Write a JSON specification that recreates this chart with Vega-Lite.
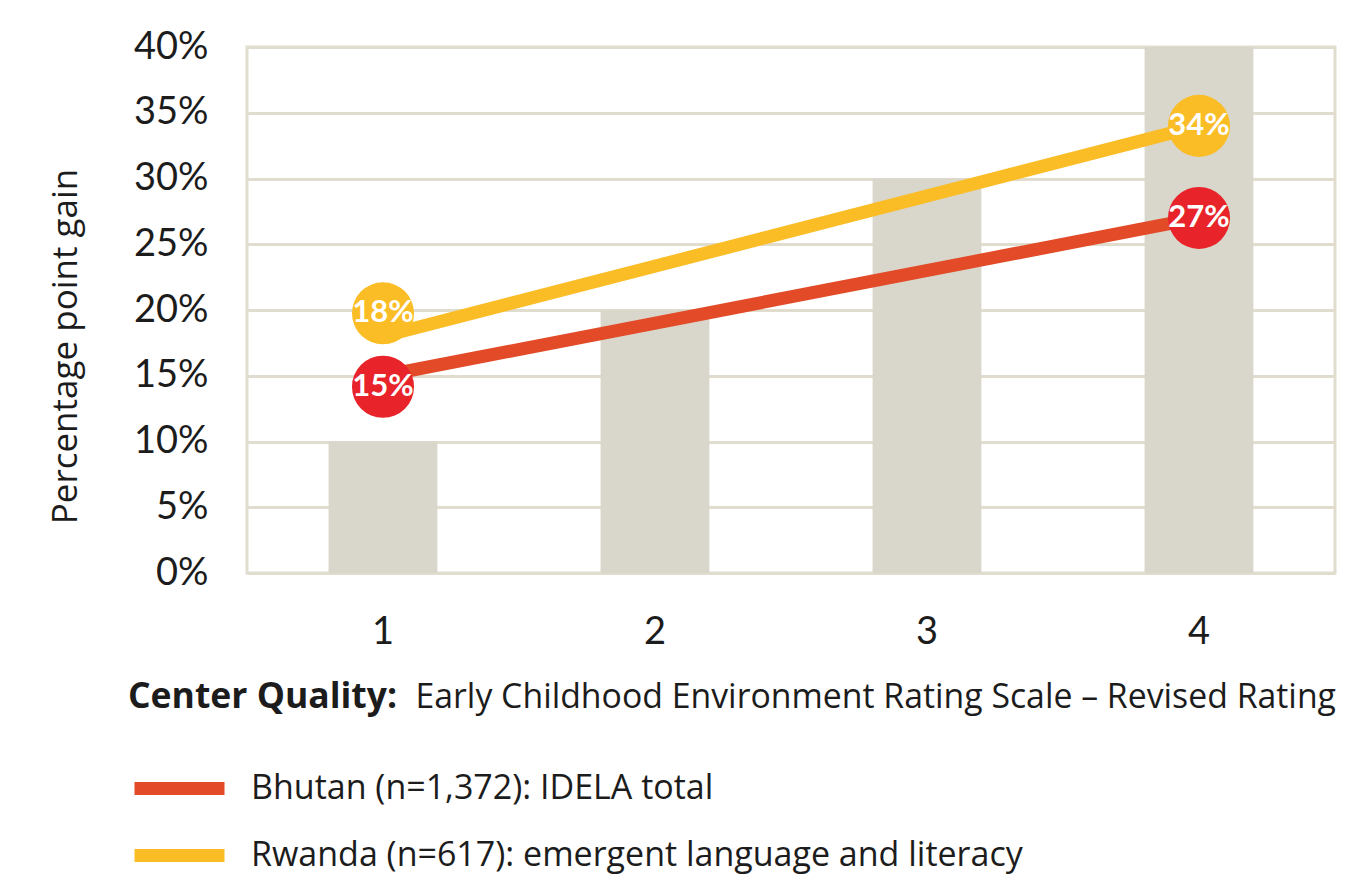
{
  "$schema": "https://vega.github.io/schema/vega-lite/v6.json",
  "width": 1088,
  "height": 526,
  "autosize": {"type": "none"},
  "padding": {"left": 247, "top": 47, "right": 15, "bottom": 315},
  "background": "white",
  "config": {
    "font": "Lato",
    "view": {"stroke": "#e0ddcf", "strokeWidth": 3}
  },
  "datasets": {
    "bars": [
      {"rating": "1", "gain": 10},
      {"rating": "2", "gain": 20},
      {"rating": "3", "gain": 30},
      {"rating": "4", "gain": 40}
    ],
    "series": [
      {"rating": "1", "country": "Bhutan (n=1,372): IDELA total", "gain": 15, "label": "15%"},
      {"rating": "4", "country": "Bhutan (n=1,372): IDELA total", "gain": 27, "label": "27%"},
      {"rating": "1", "country": "Rwanda (n=617): emergent language and literacy", "gain": 18, "label": "18%"},
      {"rating": "4", "country": "Rwanda (n=617): emergent language and literacy", "gain": 34, "label": "34%"}
    ]
  },
  "layer": [
    {
      "data": {"name": "bars"},
      "mark": {"type": "bar", "color": "#d9d6cb"},
      "encoding": {
        "x": {
          "field": "rating", "type": "ordinal",
          "scale": {"paddingInner": 0.6, "paddingOuter": 0.3},
          "axis": {
            "title": "Early Childhood Environment Rating Scale – Revised Rating",
            "titleX": 168, "titleY": 134, "titleAlign": "left", "titleAnchor": null,
            "titleBaseline": "alphabetic", "titleFontSize": 33.8, "titleFontWeight": "normal",
            "titleFont": "Open Sans", "titleColor": "#1c1c1c", "titleLimit": 1200,
            "labelFontSize": 38, "labelPadding": 40, "labelAngle": 0, "labelColor": "#1c1c1c",
            "ticks": false, "domain": false
          }
        },
        "y": {
          "field": "gain", "type": "quantitative",
          "scale": {"domain": [0, 40], "nice": false},
          "axis": {
            "title": "Percentage point gain",
            "values": [0, 5, 10, 15, 20, 25, 30, 35, 40],
            "labelExpr": "datum.value + '%'",
            "labelFontSize": 38, "labelPadding": 39, "labelColor": "#1c1c1c",
            "ticks": false, "domain": false,
            "gridColor": "#e0ddcf", "gridWidth": 3,
            "titleFontSize": 35, "titleFontWeight": "normal", "titleColor": "#1c1c1c",
            "titleFont": "Open Sans", "titleLimit": 600,
            "titleX": -182, "titleY": 299, "titleAngle": -90, "titleAlign": "center", "titleBaseline": "middle"
          }
        }
      }
    },
    {
      "data": {"name": "series"},
      "mark": {"type": "line", "strokeWidth": 13},
      "encoding": {
        "x": {"field": "rating", "type": "ordinal"},
        "y": {"field": "gain", "type": "quantitative"},
        "color": {
          "field": "country", "type": "nominal",
          "scale": {"domain": ["Bhutan (n=1,372): IDELA total", "Rwanda (n=617): emergent language and literacy"], "range": ["#e34a27", "#fbbd26"]},
          "legend": {
            "orient": "none", "legendX": -119, "legendY": 633,
            "title": "Center Quality:", "titleFontSize": 35.5, "titleFontWeight": "bold", "titleColor": "#1c1c1c",
            "titleFont": "Open Sans", "titleLimit": 600,
            "titlePadding": 58,
            "symbolType": "stroke", "symbolSize": 8100, "symbolStrokeWidth": 13,
            "clipHeight": 30,
            "labelFont": "Open Sans",
            "labelFontSize": 34, "labelOffset": 20, "rowPadding": 33, "labelColor": "#1c1c1c",
            "labelLimit": 900, "padding": 0
          }
        }
      }
    },
    {
      "data": {"name": "series"},
      "mark": {"type": "point", "filled": true, "size": 3850, "opacity": 1,
        "yOffset": {"expr": "datum.label == '18%' ? -23 : (datum.label == '15%' ? 11 : 0)"}},
      "encoding": {
        "x": {"field": "rating", "type": "ordinal"},
        "y": {"field": "gain", "type": "quantitative"},
        "fill": {
          "field": "country", "type": "nominal",
          "scale": {"domain": ["Bhutan (n=1,372): IDELA total", "Rwanda (n=617): emergent language and literacy"], "range": ["#e8232a", "#fbbd26"]},
          "legend": null
        }
      }
    },
    {
      "data": {"name": "series"},
      "mark": {"type": "text", "color": "white", "fontWeight": "bold", "fontSize": 31,
        "yOffset": {"expr": "datum.label == '18%' ? -23 : (datum.label == '15%' ? 11 : 0)"}},
      "encoding": {
        "x": {"field": "rating", "type": "ordinal"},
        "y": {"field": "gain", "type": "quantitative"},
        "text": {"field": "label"}
      }
    }
  ]
}
